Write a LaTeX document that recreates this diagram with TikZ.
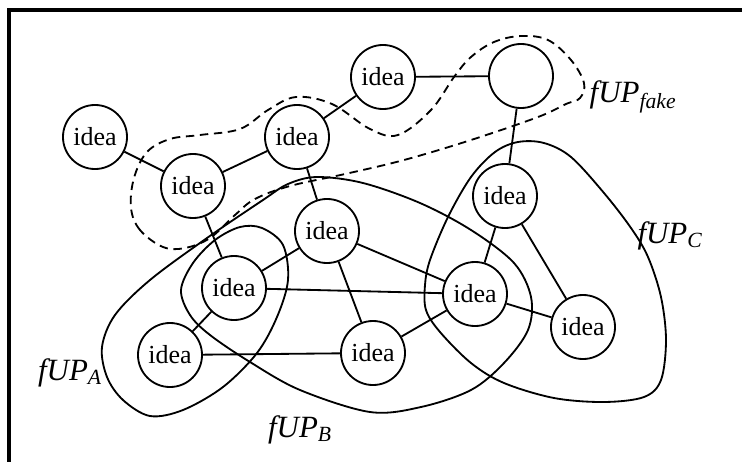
\documentclass[tikz,border=0pt]{standalone}
\usepackage{fontspec}
\setmainfont{Liberation Serif}

\begin{document}
\begin{tikzpicture}[x=0.025cm,y=-0.025cm,
	idea/.style={shape=circle,draw=black,line width=1.3pt,minimum size=1.6cm,inner sep=0pt,font=\fontsize{18.5}{20}\selectfont},
	link/.style={-,line width=1.3pt,black},
	setline/.style={line width=1.3pt,black},
	setname/.style={font=\fontsize{22}{24}\selectfont\itshape}]
	\useasboundingbox (0,0) rectangle (742,461);
	\draw[line width=2.2pt] (9,470) -- (9,10) -- (750,10);
	
	\node[idea] (A) at (95,137) {idea};
	\node[idea] (B) at (193,186) {idea};
	\node[idea] (C) at (297,137) {idea};
	\node[idea] (D) at (383,77) {idea};
	\node[idea] (E) at (521,76) {};
	\node[idea] (F) at (505,196) {idea};
	\node[idea] (G) at (327,231) {idea};
	\node[idea] (H) at (234,288) {idea};
	\node[idea] (I) at (170,355) {idea};
	\node[idea] (J) at (373,353) {idea};
	\node[idea] (K) at (475,294) {idea};
	\node[idea] (L) at (583,327) {idea};
	
	\path [link] (A) edge (B);
	\path [link] (B) edge (C);
	\path [link] (C) edge (D);
	\path [link] (D) edge (E);
	\path [link] (E) edge (F);
	\path [link] (C) edge (G);
	\path [link] (B) edge (H);
	\path [link] (H) edge (G);
	\path [link] (H) edge (K);
	\path [link] (H) edge (I);
	\path [link] (I) edge (J);
	\path [link] (G) edge (J);
	\path [link] (G) edge (K);
	\path [link] (J) edge (K);
	\path [link] (K) edge (F);
	\path [link] (F) edge (L);
	\path [link] (K) edge (L);
	
	% fake
	\draw[setline,dashed,dash pattern=on 6pt off 4pt] plot[smooth cycle,tension=0.6] coordinates {
		(163,247) (140,230) (131,208) (134,178) (147,152) (170,139) (200,135) (240,129)
		(268,110) (296,97) (332,104) (370,129) (398,135) (431,110) (454,77) (471,57)
		(494,42) (521,36) (548,40) (571,60) (584,83) (580,98) (566,104) (538,117)
		(471,140) (404,160) (345,174) (290,186) (255,199) (235,215) (210,238) (185,248)};
	% A and B
	\draw[setline] plot[smooth cycle,tension=0.55] coordinates {
		(263,200) (207,238) (150,280) (115,315) (102,347) (107,377) (123,400) (150,416)
		(183,410) (223,387) (257,353) (277,317) (288,280) (283,245) (262,228) (240,227)
		(215,240) (193,263) (181,290) (190,315) (210,335) (250,362) (300,390) (370,412)
		(421,407) (471,390) (504,363) (528,330) (531,297) (514,263) (471,230) (420,203)
		(363,183) (317,177) (288,184)};
	% C
	\draw[setline] plot[smooth cycle,tension=0.55] coordinates {
		(518,142) (544,143) (571,157) (604,193) (631,228) (648,257) (661,297) (666,340)
		(661,380) (644,397) (604,402) (554,398) (504,383) (471,363) (440,332) (426,310)
		(425,285) (430,260) (448,217) (471,177) (495,152)};
	
	\node[setname] (fake) at (633,97) {fUP\textsubscript{fake}};
	\node[setname] (nameC) at (670,236) {fUP\textsubscript{C}};
	\node[setname] (nameA) at (70,373) {fUP\textsubscript{A}};
	\node[setname] (nameB) at (300,430) {fUP\textsubscript{B}};
\end{tikzpicture}
\end{document}
